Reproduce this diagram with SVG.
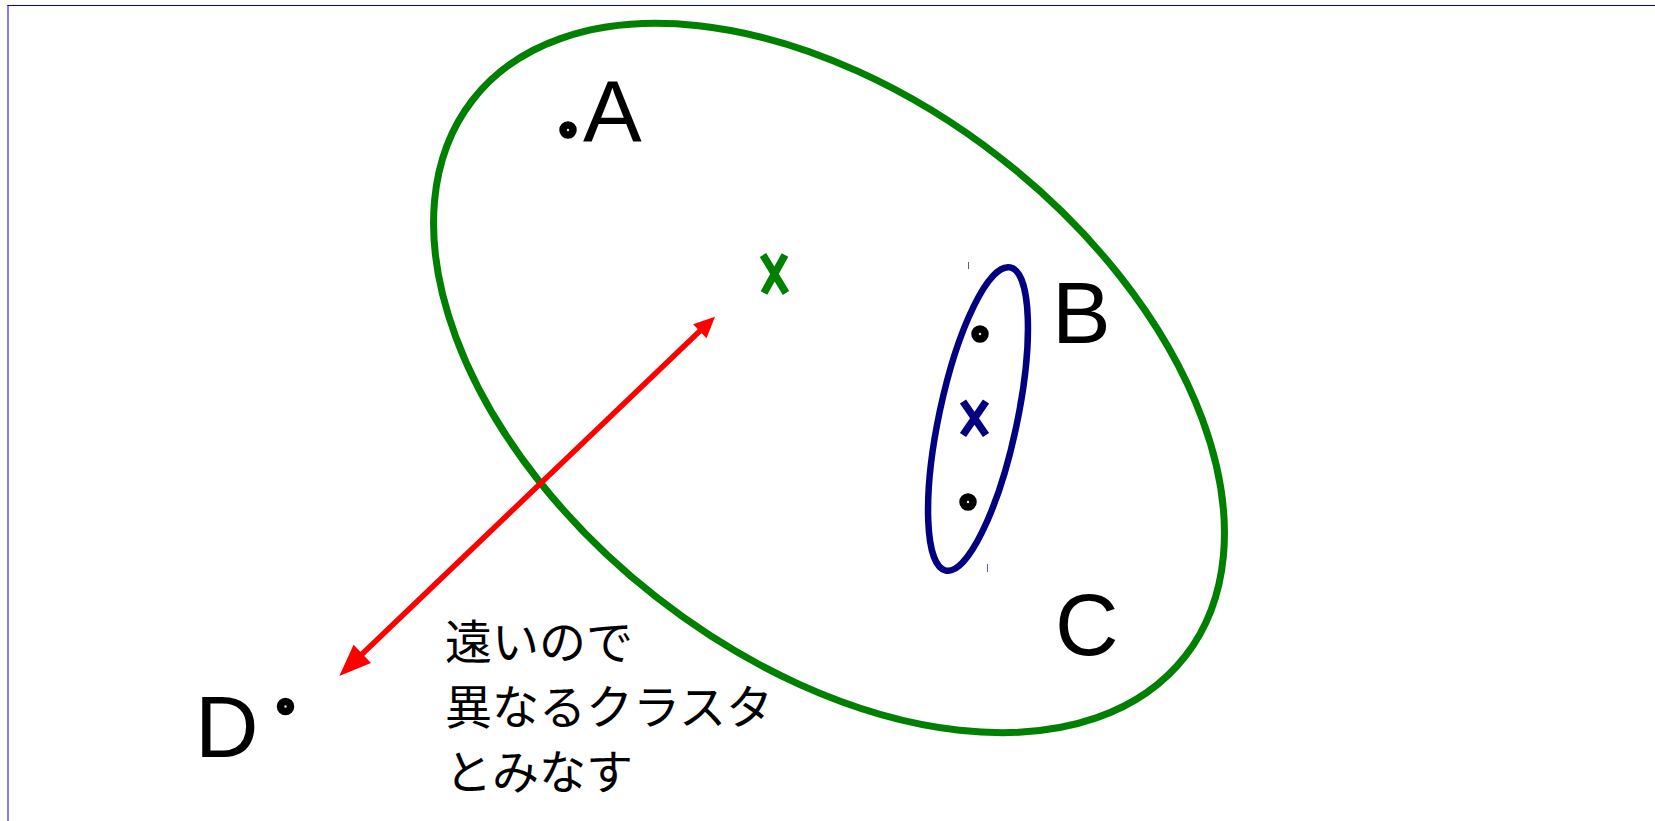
<svg xmlns="http://www.w3.org/2000/svg" width="1655" height="821" viewBox="0 0 1655 821">
<style>
.lbl{font-family:"Liberation Sans",Arial,sans-serif;font-size:88px;fill:#000}
.jp{font-family:"Noto Sans CJK JP","Noto Sans",sans-serif;font-size:47px;fill:#000}
.dot{fill:#d0e8ff;stroke:#000;stroke-width:7.5}
.xg{stroke:#008000;stroke-width:7.5;fill:none}
.xb{stroke:#000080;stroke-width:7.5;fill:none}
.tick{stroke:#5a5ab4;stroke-width:1}
.arrowhead{fill:#ff0000;stroke:none}
</style>
<rect width="1655" height="821" fill="#fff"/>
<g id="frame">
<line x1="7.5" y1="5.5" x2="1655" y2="5.5" stroke="#0000e6" stroke-width="1"/>
<line x1="8" y1="5" x2="8" y2="821" stroke="#0000ff" stroke-width="1"/>
</g>
<g id="clusterC">
<ellipse cx="829" cy="378" rx="452" ry="279" transform="rotate(38 829 378)" fill="none" stroke="#008000" stroke-width="7"/>
<path class="xg" d="M763,255 L786,293 M785,255 L764,293"/>
</g>
<g id="clusterB">
<ellipse cx="978" cy="419" rx="39" ry="155" transform="rotate(12 978 419)" fill="none" stroke="#000080" stroke-width="6.5"/>
<path class="xb" d="M963,401.5 L986,435 M986,401.5 L963,435"/>
<line class="tick" x1="968.5" y1="262" x2="968.5" y2="269"/>
<line class="tick" x1="987.5" y1="564" x2="987.5" y2="572"/>
</g>
<g id="pointA">
<circle class="dot" cx="568" cy="130" r="5"/>
<text class="lbl" x="583" y="142">A</text>
</g>
<g id="pointsB">
<circle class="dot" cx="980" cy="334" r="5"/>
<circle class="dot" cx="968" cy="502" r="5"/>
<text class="lbl" x="1052" y="343">B</text>
</g>
<g id="labelC">
<text class="lbl" x="1055" y="655">C</text>
</g>
<g id="pointD">
<circle class="dot" cx="285.5" cy="706.5" r="5"/>
<text class="lbl" x="195" y="757">D</text>
</g>
<g id="connectors">
<line x1="703" y1="328" x2="358" y2="658" stroke="#ff0000" stroke-width="5.5"/>
<polygon class="arrowhead" points="715,316.7 706.5,338.2 693.1,324.2"/>
<polygon class="arrowhead" points="339.3,676 371,663 353.6,644.8"/>
</g>
<g id="note">
<text class="jp" x="445" y="659">遠いので</text>
<text class="jp" x="445" y="724">異なるクラスタ</text>
<text class="jp" x="445" y="789">とみなす</text>
</g>
</svg>
